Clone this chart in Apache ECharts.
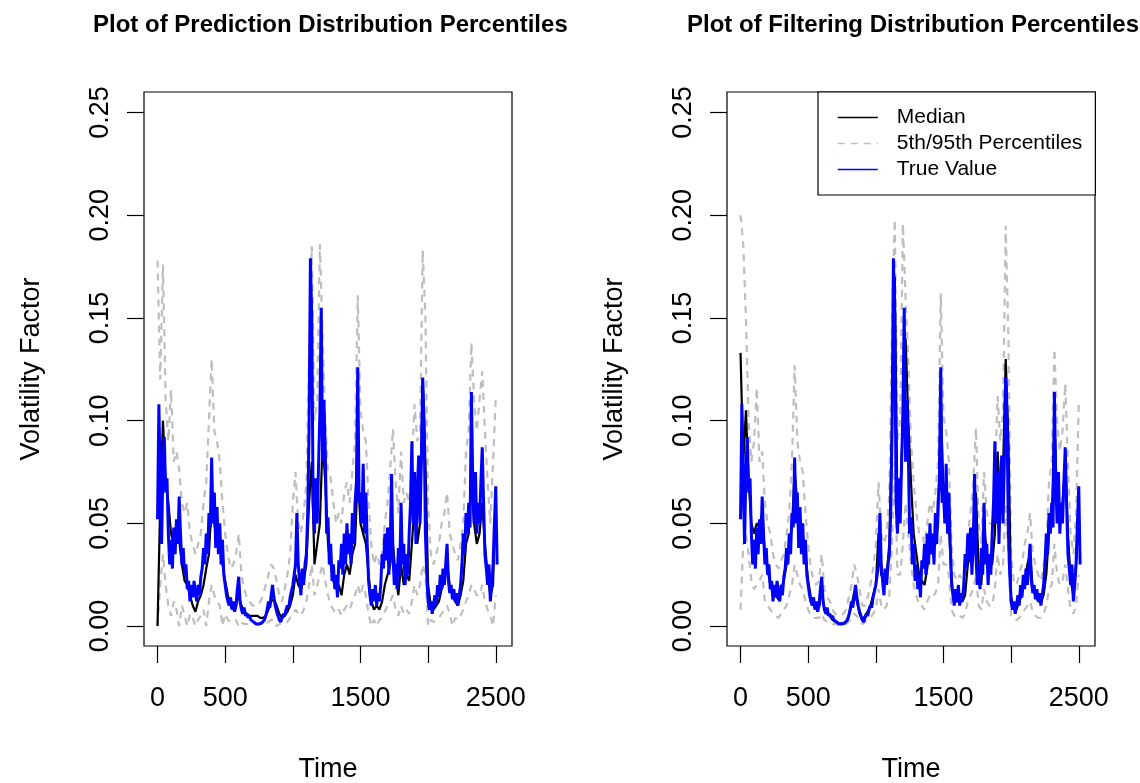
<!DOCTYPE html>
<html>
<head>
<meta charset="utf-8">
<script src="https://cdn.jsdelivr.net/npm/echarts@6/dist/echarts.min.js"></script>
<style>
html, body { margin: 0; padding: 0; background: #fff; }
#chart { width: 1140px; height: 783px; }
</style>
</head>
<body>
<div id="chart"></div>
<script>
// time step of each sampled series (true value is read finer)
const fineStep = 10;
const coarseStep = 20;

// true volatility factor, t = 0, 10, 20, ... 2510
const trueValue = [
    0.052, 0.108, 0.070, 0.040, 0.078, 0.092, 0.065, 0.072, 0.045, 0.030,
    0.042, 0.028, 0.048, 0.035, 0.052, 0.040, 0.063, 0.045, 0.030, 0.038,
    0.025, 0.030, 0.018, 0.022, 0.012, 0.020, 0.014, 0.022, 0.016, 0.012,
    0.020, 0.015, 0.024, 0.028, 0.038, 0.030, 0.045, 0.035, 0.055, 0.048,
    0.082, 0.050, 0.065, 0.038, 0.058, 0.035, 0.050, 0.030, 0.042, 0.025,
    0.020, 0.015, 0.012, 0.010, 0.014, 0.008, 0.012, 0.007, 0.010, 0.018,
    0.024, 0.012, 0.008, 0.006, 0.009, 0.005, 0.006, 0.004, 0.005, 0.003,
    0.003, 0.002, 0.0015, 0.001, 0.0008, 0.001, 0.001, 0.0015, 0.002, 0.003,
    0.005, 0.008, 0.012, 0.009, 0.015, 0.020, 0.014, 0.010, 0.007, 0.005,
    0.003, 0.002, 0.004, 0.006, 0.005, 0.008, 0.010, 0.009, 0.014, 0.017,
    0.020, 0.025, 0.030, 0.055, 0.030, 0.022, 0.015, 0.028, 0.020, 0.030,
    0.035, 0.055, 0.095, 0.179, 0.150, 0.060, 0.045, 0.072, 0.050, 0.078,
    0.104, 0.155, 0.080, 0.110, 0.085, 0.045, 0.053, 0.030, 0.040, 0.022,
    0.030, 0.018, 0.025, 0.014, 0.032, 0.028, 0.040, 0.025, 0.045, 0.030,
    0.050, 0.035, 0.045, 0.030, 0.055, 0.040, 0.060, 0.070, 0.126, 0.060,
    0.065, 0.050, 0.079, 0.045, 0.065, 0.040, 0.022, 0.015, 0.010, 0.018,
    0.012, 0.020, 0.010, 0.016, 0.012, 0.020, 0.035, 0.028, 0.045, 0.032,
    0.048, 0.025, 0.040, 0.074, 0.035, 0.020, 0.030, 0.018, 0.038, 0.025,
    0.060, 0.030, 0.040, 0.020, 0.035, 0.025, 0.045, 0.060, 0.090, 0.050,
    0.075, 0.040, 0.065, 0.083, 0.050, 0.080, 0.121, 0.100, 0.045, 0.025,
    0.012, 0.008, 0.012, 0.006, 0.010, 0.015, 0.010, 0.020, 0.014, 0.025,
    0.018, 0.028, 0.020, 0.030, 0.040, 0.022, 0.016, 0.020, 0.013, 0.018,
    0.012, 0.016, 0.010, 0.015, 0.020, 0.030, 0.045, 0.035, 0.055, 0.045,
    0.060, 0.048, 0.114, 0.070, 0.050, 0.075, 0.045, 0.060, 0.050, 0.070,
    0.087, 0.060, 0.035, 0.028, 0.020, 0.030, 0.012, 0.020, 0.030, 0.050,
    0.068, 0.030
];

// prediction distribution, t = 0, 20, 40, ... 2500
const predMedian = [
    0.000, 0.060, 0.100, 0.070, 0.060, 0.045, 0.040, 0.045, 0.042, 0.030,
    0.022, 0.020, 0.015, 0.010, 0.007, 0.012, 0.015, 0.020, 0.028, 0.035,
    0.060, 0.050, 0.040, 0.045, 0.030, 0.022, 0.015, 0.010, 0.008, 0.010,
    0.015, 0.010, 0.007, 0.006, 0.005, 0.005, 0.005, 0.005, 0.004, 0.004,
    0.005, 0.008, 0.012, 0.013, 0.010, 0.006, 0.004, 0.005, 0.007, 0.010,
    0.015, 0.025, 0.020, 0.018, 0.022, 0.030, 0.060, 0.080, 0.030, 0.040,
    0.050, 0.090, 0.070, 0.040, 0.030, 0.022, 0.018, 0.020, 0.015, 0.025,
    0.030, 0.025, 0.035, 0.040, 0.075, 0.050, 0.045, 0.040, 0.025, 0.012,
    0.008, 0.010, 0.008, 0.012, 0.020, 0.025, 0.030, 0.040, 0.025, 0.015,
    0.030, 0.020, 0.025, 0.022, 0.040, 0.060, 0.040, 0.050, 0.120, 0.080,
    0.020, 0.010, 0.008, 0.010, 0.012, 0.018, 0.022, 0.030, 0.020, 0.015,
    0.012, 0.010, 0.015, 0.022, 0.040, 0.045, 0.070, 0.050, 0.040, 0.045,
    0.060, 0.040, 0.025, 0.015, 0.020, 0.065
];
const predP5 = [
    0.000, 0.020, 0.035, 0.020, 0.010, 0.005, 0.012, 0.008, 0.000, 0.010,
    0.005, 0.000, 0.006, 0.004, 0.000, 0.003, 0.005, 0.008, 0.000, 0.012,
    0.020, 0.015, 0.012, 0.010, 0.000, 0.006, 0.003, 0.002, 0.002, 0.003,
    0.000, 0.002, 0.001, 0.001, 0.001, 0.0008, 0.0008, 0.0008, 0.001, 0.001,
    0.001, 0.002, 0.003, 0.003, 0.000, 0.001, 0.001, 0.001, 0.002, 0.004,
    0.006, 0.008, 0.006, 0.005, 0.008, 0.012, 0.020, 0.030, 0.015, 0.020,
    0.025, 0.030, 0.022, 0.015, 0.010, 0.008, 0.006, 0.008, 0.005, 0.008,
    0.010, 0.008, 0.012, 0.015, 0.020, 0.015, 0.020, 0.015, 0.006, 0.000,
    0.003, 0.000, 0.003, 0.004, 0.007, 0.010, 0.012, 0.015, 0.008, 0.005,
    0.010, 0.006, 0.008, 0.006, 0.012, 0.020, 0.015, 0.020, 0.030, 0.025,
    0.000, 0.003, 0.002, 0.003, 0.004, 0.006, 0.008, 0.010, 0.006, 0.000,
    0.004, 0.003, 0.005, 0.008, 0.012, 0.015, 0.020, 0.018, 0.015, 0.015,
    0.020, 0.012, 0.008, 0.005, 0.000, 0.015
];
const predP95 = [
    0.178, 0.120, 0.176, 0.110, 0.090, 0.115, 0.080, 0.085, 0.076, 0.060,
    0.055, 0.060, 0.045, 0.040, 0.035, 0.040, 0.045, 0.060, 0.070, 0.100,
    0.130, 0.095, 0.090, 0.080, 0.060, 0.045, 0.035, 0.028, 0.030, 0.035,
    0.045, 0.025, 0.018, 0.014, 0.012, 0.010, 0.010, 0.010, 0.012, 0.015,
    0.020, 0.025, 0.030, 0.028, 0.022, 0.015, 0.012, 0.018, 0.025, 0.035,
    0.060, 0.075, 0.050, 0.045, 0.055, 0.070, 0.130, 0.185, 0.100, 0.110,
    0.186, 0.140, 0.100, 0.075, 0.072, 0.060, 0.050, 0.055, 0.050, 0.065,
    0.070, 0.060, 0.075, 0.090, 0.161, 0.105, 0.095, 0.090, 0.060, 0.040,
    0.030, 0.035, 0.030, 0.035, 0.050, 0.060, 0.077, 0.096, 0.070, 0.055,
    0.085, 0.060, 0.065, 0.060, 0.080, 0.108, 0.090, 0.095, 0.183, 0.150,
    0.060, 0.035, 0.030, 0.035, 0.040, 0.050, 0.055, 0.065, 0.045, 0.040,
    0.035, 0.032, 0.040, 0.050, 0.085, 0.095, 0.138, 0.110, 0.095, 0.110,
    0.124, 0.095, 0.070, 0.050, 0.080, 0.111
];

// filtering distribution, t = 0, 20, 40, ... 2500
const filtMedian = [
    0.133, 0.080, 0.105, 0.070, 0.050, 0.045, 0.050, 0.048, 0.055, 0.035,
    0.028, 0.020, 0.016, 0.015, 0.013, 0.018, 0.022, 0.030, 0.040, 0.048,
    0.075, 0.060, 0.050, 0.045, 0.035, 0.022, 0.014, 0.011, 0.010, 0.009,
    0.018, 0.008, 0.006, 0.005, 0.003, 0.002, 0.0015, 0.0012, 0.0015, 0.002,
    0.005, 0.010, 0.016, 0.012, 0.006, 0.003, 0.005, 0.007, 0.010, 0.015,
    0.020, 0.045, 0.025, 0.022, 0.025, 0.040, 0.100, 0.170, 0.055, 0.060,
    0.100, 0.140, 0.100, 0.070, 0.045, 0.035, 0.025, 0.022, 0.020, 0.028,
    0.040, 0.035, 0.040, 0.050, 0.110, 0.065, 0.070, 0.050, 0.020, 0.012,
    0.012, 0.012, 0.012, 0.015, 0.030, 0.035, 0.045, 0.065, 0.028, 0.020,
    0.050, 0.035, 0.030, 0.030, 0.045, 0.085, 0.060, 0.075, 0.130, 0.090,
    0.014, 0.009, 0.008, 0.012, 0.015, 0.022, 0.030, 0.035, 0.018, 0.015,
    0.012, 0.012, 0.015, 0.025, 0.045, 0.050, 0.100, 0.060, 0.055, 0.060,
    0.080, 0.045, 0.022, 0.015, 0.030, 0.060
];
const filtP5 = [
    0.008, 0.040, 0.045, 0.035, 0.022, 0.018, 0.020, 0.022, 0.025, 0.012,
    0.010, 0.008, 0.006, 0.005, 0.004, 0.006, 0.008, 0.010, 0.015, 0.020,
    0.030, 0.025, 0.020, 0.018, 0.012, 0.008, 0.005, 0.004, 0.004, 0.004,
    0.006, 0.003, 0.002, 0.002, 0.001, 0.0008, 0.0006, 0.0006, 0.0008, 0.001,
    0.002, 0.004, 0.006, 0.005, 0.003, 0.001, 0.002, 0.003, 0.004, 0.006,
    0.008, 0.018, 0.010, 0.008, 0.010, 0.015, 0.040, 0.080, 0.025, 0.025,
    0.040, 0.060, 0.045, 0.030, 0.020, 0.015, 0.010, 0.010, 0.008, 0.012,
    0.015, 0.014, 0.016, 0.020, 0.045, 0.030, 0.030, 0.025, 0.008, 0.005,
    0.004, 0.005, 0.004, 0.006, 0.012, 0.015, 0.018, 0.025, 0.010, 0.008,
    0.018, 0.012, 0.010, 0.010, 0.018, 0.035, 0.025, 0.030, 0.060, 0.035,
    0.005, 0.003, 0.003, 0.004, 0.006, 0.008, 0.010, 0.012, 0.007, 0.005,
    0.004, 0.004, 0.006, 0.010, 0.018, 0.020, 0.040, 0.025, 0.020, 0.022,
    0.030, 0.018, 0.008, 0.006, 0.010, 0.025
];
const filtP95 = [
    0.200, 0.186, 0.150, 0.100, 0.080, 0.090, 0.116, 0.080, 0.085, 0.060,
    0.050, 0.045, 0.035, 0.030, 0.028, 0.032, 0.035, 0.045, 0.055, 0.080,
    0.127, 0.090, 0.080, 0.075, 0.055, 0.040, 0.028, 0.022, 0.020, 0.022,
    0.035, 0.018, 0.014, 0.012, 0.008, 0.006, 0.005, 0.005, 0.006, 0.008,
    0.014, 0.020, 0.030, 0.025, 0.018, 0.010, 0.010, 0.014, 0.020, 0.028,
    0.040, 0.070, 0.045, 0.040, 0.045, 0.065, 0.150, 0.198, 0.090, 0.100,
    0.196, 0.160, 0.130, 0.090, 0.070, 0.055, 0.045, 0.045, 0.040, 0.050,
    0.060, 0.055, 0.065, 0.080, 0.162, 0.102, 0.095, 0.080, 0.040, 0.025,
    0.022, 0.025, 0.022, 0.025, 0.045, 0.055, 0.070, 0.0965, 0.050, 0.040,
    0.075, 0.055, 0.050, 0.050, 0.070, 0.112, 0.090, 0.104, 0.195, 0.140,
    0.035, 0.022, 0.020, 0.025, 0.030, 0.040, 0.045, 0.055, 0.035, 0.030,
    0.025, 0.022, 0.030, 0.040, 0.070, 0.080, 0.135, 0.100, 0.085, 0.095,
    0.118, 0.080, 0.045, 0.035, 0.055, 0.108
];

const xTicks = [0, 500, 1000, 1500, 2000, 2500];
const xLabels = [0, 500, 1500, 2500];
const yTicks = [0, 0.05, 0.10, 0.15, 0.20, 0.25];
const titles = ['Plot of Prediction Distribution Percentiles', 'Plot of Filtering Distribution Percentiles'];

const font = 'Liberation Sans, Arial, Helvetica, sans-serif';

function pairs(arr, step) {
    return arr.map((v, i) => [i * step, v]);
}

function makeX(idx) {
    return {
        type: 'value', gridIndex: idx, min: -100, max: 2620,
        name: 'Time', nameLocation: 'middle', nameGap: 110,
        nameTextStyle: { fontSize: 27, fontFamily: font, color: '#000' },
        axisLine: { show: false, onZero: false },
        axisTick: { show: true, length: 17, customValues: xTicks, lineStyle: { color: '#000', width: 1.2 } },
        axisLabel: {
            customValues: xLabels, fontSize: 27, fontFamily: font, color: '#000', margin: 39,
            formatter: v => String(v)
        },
        splitLine: { show: false }
    };
}

function makeY(idx) {
    return {
        type: 'value', gridIndex: idx, min: -0.0097, max: 0.26,
        name: 'Volatility Factor', nameLocation: 'middle', nameGap: 99, nameRotate: 90,
        nameTextStyle: { fontSize: 27, fontFamily: font, color: '#000' },
        axisLine: { show: false, onZero: false },
        axisTick: { show: true, length: 17, customValues: yTicks, lineStyle: { color: '#000', width: 1.2 } },
        axisLabel: {
            customValues: yTicks, rotate: 90, fontSize: 27, fontFamily: font, color: '#000', margin: 30,
            formatter: v => v.toFixed(2)
        },
        splitLine: { show: false }
    };
}

function makeSeries(idx, median, p5, p95) {
    const grey = { color: '#BEBEBE', width: 2.2, type: [7, 6] };
    const base = { type: 'line', xAxisIndex: idx, yAxisIndex: idx, symbol: 'none', silent: true, animation: false };
    return [
        Object.assign({}, base, { name: '5th/95th Percentiles', data: pairs(p95, coarseStep), lineStyle: grey, itemStyle: { color: '#BEBEBE' } }),
        Object.assign({}, base, { name: '5th/95th Percentiles', data: pairs(p5, coarseStep), lineStyle: grey, itemStyle: { color: '#BEBEBE' } }),
        Object.assign({}, base, { name: 'Median', data: pairs(median, coarseStep), lineStyle: { color: '#000', width: 2.2 }, itemStyle: { color: '#000' } }),
        Object.assign({}, base, { name: 'True Value', data: pairs(trueValue, fineStep), lineStyle: { color: '#0000FF', width: 3 }, itemStyle: { color: '#0000FF' } })
    ];
}

const gridBase = {
    top: 92, width: 368, height: 554, show: true,
    borderColor: '#000', borderWidth: 1.2, backgroundColor: 'transparent',
    outerBoundsMode: 'none', containLabel: false
};

const option = {
    backgroundColor: '#fff',
    animation: false,
    title: [
        { text: titles[0], left: 88, top: 8, textStyle: { fontSize: 24, fontWeight: 'bold', fontFamily: font, color: '#000' } },
        { text: titles[1], left: 682, top: 8, textStyle: { fontSize: 24, fontWeight: 'bold', fontFamily: font, color: '#000' } }
    ],
    legend: {
        data: ['Median', '5th/95th Percentiles', 'True Value'],
        orient: 'vertical', left: 818, top: 92,
        padding: [15, 13, 15, 19], itemGap: 5, itemWidth: 40, itemHeight: 14,
        borderColor: '#000', borderWidth: 1.2, backgroundColor: '#fff',
        selectedMode: false,
        itemStyle: { opacity: 0 },
        lineStyle: { width: 1.5 },
        textStyle: { fontSize: 21, fontFamily: font, color: '#000', padding: [0, 0, 0, 14] }
    },
    grid: [
        Object.assign({ left: 144 }, gridBase),
        Object.assign({ left: 727 }, gridBase)
    ],
    xAxis: [makeX(0), makeX(1)],
    yAxis: [makeY(0), makeY(1)],
    series: makeSeries(0, predMedian, predP5, predP95).concat(makeSeries(1, filtMedian, filtP5, filtP95))
};

const myChart = echarts.init(document.getElementById('chart'));
myChart.setOption(option);
</script>
</body>
</html>
